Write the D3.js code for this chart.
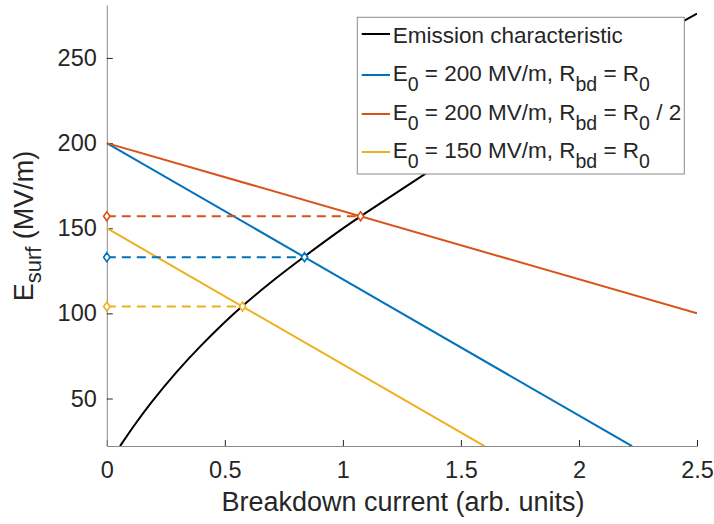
<!DOCTYPE html>
<html>
<head>
<meta charset="utf-8">
<script src="https://cdn.jsdelivr.net/npm/d3@7"></script>
<style>
  body { margin: 0; background: #fff; }
  svg text { font-family: "Liberation Sans", Arial, sans-serif; fill: #262626; }
</style>
</head>
<body>
<div id="chart"></div>
<script>
// Chart data
const xTicks = [0, 0.5, 1, 1.5, 2, 2.5];
const xTickLabels = ['0', '0.5', '1', '1.5', '2', '2.5'];
const yTicks = [50, 100, 150, 200, 250];
const yTickLabels = ['50', '100', '150', '200', '250'];

// emission characteristic (black curve)
const emissionI = [0.056, 0.112, 0.183, 0.3, 0.394, 0.5, 0.575, 0.7, 0.8375, 1.0, 1.075, 1.359, 1.6, 1.9, 2.2, 2.5];
const emissionE = [22, 33.5, 47, 66.5, 80.5, 95, 104.5, 119, 133.5, 150, 157, 183, 204, 229, 253, 276];

// load lines (start and end points)
const blueI = [0, 2.225];
const blueE = [200, 22];
const orangeI = [0, 2.5];
const orangeE = [200, 100];
const yellowI = [0, 1.6];
const yellowE = [150, 22];

// operating points (intersections)
const opNames = ['orange', 'blue', 'yellow'];
const opI = [1.075, 0.8375, 0.575];
const opE = [157, 133, 104];

const colors = { black: '#000000', blue: '#0072BD', orange: '#D95319', yellow: '#EDB120' };

const legendKeys = ['black', 'blue', 'orange', 'yellow'];
const legendLabels = [
  [{ t: 'Emission characteristic' }],
  [{ t: 'E' }, { t: '0', sub: true }, { t: ' = 200 MV/m, R' }, { t: 'bd', sub: true }, { t: ' = R' }, { t: '0', sub: true }],
  [{ t: 'E' }, { t: '0', sub: true }, { t: ' = 200 MV/m, R' }, { t: 'bd', sub: true }, { t: ' = R' }, { t: '0', sub: true }, { t: ' / 2' }],
  [{ t: 'E' }, { t: '0', sub: true }, { t: ' = 150 MV/m, R' }, { t: 'bd', sub: true }, { t: ' = R' }, { t: '0', sub: true }]
];

const width = 714, height = 524;
const plot = { left: 106.8, right: 697, top: 5, bottom: 446 };

const svg = d3.select('#chart').append('svg')
  .attr('width', width)
  .attr('height', height);

const x = d3.scaleLinear().domain([0, 2.5]).range([plot.left, plot.right]);
const y = d3.scaleLinear().domain([22.1, 281.1]).range([plot.bottom, plot.top]);

svg.append('clipPath').attr('id', 'clip')
  .append('rect')
  .attr('x', plot.left).attr('y', plot.top)
  .attr('width', plot.right - plot.left).attr('height', plot.bottom - plot.top);

// axes
const xAxis = svg.append('g')
  .attr('transform', `translate(0,${plot.bottom})`)
  .call(d3.axisBottom(x).tickValues(xTicks).tickFormat((d, i) => xTickLabels[i])
    .tickSizeInner(-6).tickSizeOuter(0).tickPadding(15));
const yAxis = svg.append('g')
  .attr('transform', `translate(${plot.left},0)`)
  .call(d3.axisLeft(y).tickValues(yTicks).tickFormat((d, i) => yTickLabels[i])
    .tickSizeInner(-6).tickSizeOuter(0).tickPadding(10));

[xAxis, yAxis].forEach(ax => {
  ax.select('.domain').attr('stroke', '#8a8a8a').attr('stroke-width', 1);
  ax.selectAll('.tick line').attr('stroke', '#262626').attr('stroke-width', 1);
  ax.selectAll('.tick text')
    .style('font-family', '"Liberation Sans", Arial, sans-serif')
    .style('font-size', '23.5px')
    .attr('fill', '#262626');
});

// axis labels
svg.append('text')
  .attr('x', 403).attr('y', 511)
  .attr('text-anchor', 'middle')
  .style('font-size', '27px')
  .text('Breakdown current (arb. units)');

const yLab = svg.append('text')
  .attr('transform', 'translate(33,226) rotate(-90)')
  .attr('text-anchor', 'middle')
  .style('font-size', '27px');
yLab.append('tspan').text('E');
yLab.append('tspan').attr('dy', 8).style('font-size', '22px').text('surf');
yLab.append('tspan').attr('dy', -8).text(' (MV/m)');

// lines
const plotArea = svg.append('g').attr('clip-path', 'url(#clip)');

const line = d3.line().x(d => x(d[0])).y(d => y(d[1]));
const smooth = d3.line().x(d => x(d[0])).y(d => y(d[1])).curve(d3.curveBasis);

const series = [
  { key: 'blue', pts: d3.zip(blueI, blueE) },
  { key: 'orange', pts: d3.zip(orangeI, orangeE) },
  { key: 'yellow', pts: d3.zip(yellowI, yellowE) }
];

plotArea.append('path')
  .attr('d', smooth(d3.zip(emissionI, emissionE)))
  .attr('fill', 'none').attr('stroke', colors.black).attr('stroke-width', 2);

series.forEach(s => {
  plotArea.append('path')
    .attr('d', line(s.pts))
    .attr('fill', 'none').attr('stroke', colors[s.key]).attr('stroke-width', 2);
});

// dashed operating-point lines with diamond markers
const diamond = 'M0,-4.5L3.2,0L0,4.5L-3.2,0Z';
opNames.forEach((name, i) => {
  plotArea.append('path')
    .attr('d', line([[0, opE[i]], [opI[i], opE[i]]]))
    .attr('fill', 'none').attr('stroke', colors[name]).attr('stroke-width', 2)
    .attr('stroke-dasharray', '9,6');
  [[0, opE[i]], [opI[i], opE[i]]].forEach(p => {
    svg.append('path')
      .attr('d', diamond)
      .attr('transform', `translate(${x(p[0])},${y(p[1])})`)
      .attr('fill', '#fff').attr('stroke', colors[name]).attr('stroke-width', 1.6);
  });
});

// legend
const legend = svg.append('g');
legend.append('rect')
  .attr('x', 357.3).attr('y', 17.3)
  .attr('width', 684.3 - 357.3).attr('height', 174 - 17.3)
  .attr('fill', '#fff').attr('stroke', '#8a8a8a').attr('stroke-width', 1);

const rowBase = [43, 81, 120, 158];
const rowLine = [34, 75, 114, 152];
legendKeys.forEach((key, i) => {
  legend.append('line')
    .attr('x1', 361.7).attr('x2', 390)
    .attr('y1', rowLine[i]).attr('y2', rowLine[i])
    .attr('stroke', colors[key]).attr('stroke-width', 2);
  const txt = legend.append('text')
    .attr('x', 392.7).attr('y', rowBase[i])
    .style('font-size', '22.5px');
  let shifted = false;
  legendLabels[i].forEach(part => {
    const ts = txt.append('tspan').text(part.t);
    if (part.sub && !shifted) { ts.attr('dy', 10).style('font-size', '19.5px'); shifted = true; }
    else if (part.sub) { ts.style('font-size', '19.5px'); }
    else if (shifted) { ts.attr('dy', -10); shifted = false; }
  });
});
</script>
</body>
</html>
